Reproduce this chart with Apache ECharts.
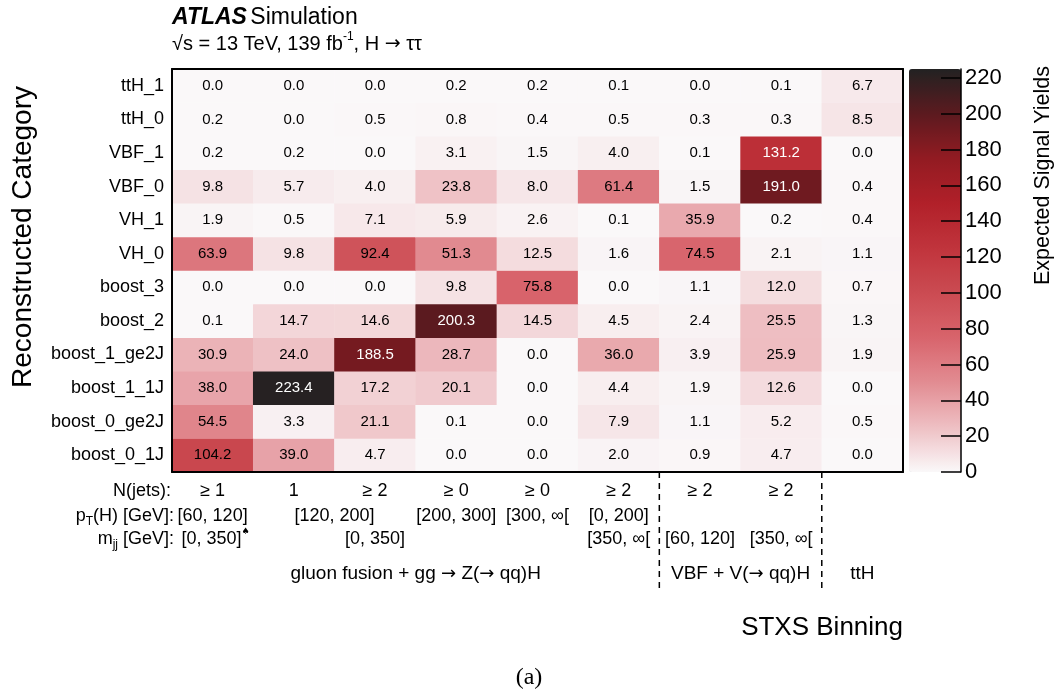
<!DOCTYPE html>
<html>
<head>
<meta charset="utf-8">
<script src="https://cdn.jsdelivr.net/npm/echarts@6/dist/echarts.min.js"></script>
<style>
html,body{margin:0;padding:0;background:#fff;}
#c{width:1057px;height:692px;}
</style>
</head>
<body>
<div id="c"></div>
<script>
// ---------------- data ----------------
const stxsBins = ['ggF_1J_60_120','ggF_1J_120_200','ggF_ge2J_120_200','ggF_200_300','ggF_300_inf','ggF_ge2J_mjj350_pt0_200','VBF_mjj60_120','VBF_mjj350_inf','ttH'];
// reconstructed categories, bottom -> top
const recoCats = ['boost_0_1J','boost_0_ge2J','boost_1_1J','boost_1_ge2J','boost_2','boost_3','VH_0','VH_1','VBF_0','VBF_1','ttH_0','ttH_1'];

const row_boost_0_1J   = [104.2, 39.0,   4.7,   0.0,  0.0,  2.0,  0.9,   4.7, 0.0];
const row_boost_0_ge2J = [ 54.5,  3.3,  21.1,   0.1,  0.0,  7.9,  1.1,   5.2, 0.5];
const row_boost_1_1J   = [ 38.0,223.4,  17.2,  20.1,  0.0,  4.4,  1.9,  12.6, 0.0];
const row_boost_1_ge2J = [ 30.9, 24.0, 188.5,  28.7,  0.0, 36.0,  3.9,  25.9, 1.9];
const row_boost_2      = [  0.1, 14.7,  14.6, 200.3, 14.5,  4.5,  2.4,  25.5, 1.3];
const row_boost_3      = [  0.0,  0.0,   0.0,   9.8, 75.8,  0.0,  1.1,  12.0, 0.7];
const row_VH_0         = [ 63.9,  9.8,  92.4,  51.3, 12.5,  1.6, 74.5,   2.1, 1.1];
const row_VH_1         = [  1.9,  0.5,   7.1,   5.9,  2.6,  0.1, 35.9,   0.2, 0.4];
const row_VBF_0        = [  9.8,  5.7,   4.0,  23.8,  8.0, 61.4,  1.5, 191.0, 0.4];
const row_VBF_1        = [  0.2,  0.2,   0.0,   3.1,  1.5,  4.0,  0.1, 131.2, 0.0];
const row_ttH_0        = [  0.2,  0.0,   0.5,   0.8,  0.4,  0.5,  0.3,   0.3, 8.5];
const row_ttH_1        = [  0.0,  0.0,   0.0,   0.2,  0.2,  0.1,  0.0,   0.1, 6.7];
const rows = [row_boost_0_1J,row_boost_0_ge2J,row_boost_1_1J,row_boost_1_ge2J,row_boost_2,row_boost_3,row_VH_0,row_VH_1,row_VBF_0,row_VBF_1,row_ttH_0,row_ttH_1];

const zTicks = [0,20,40,60,80,100,120,140,160,180,200,220];
const zMax = 225;

// bottom annotation rows (column index where each label is centred)
const nJetsText = ['≥ 1','1','≥ 2','≥ 0','≥ 0','≥ 2','≥ 2','≥ 2'];
const nJetsCol  = [0,1,2,3,4,5,6,7];
const ptText = ['[60, 120]','[120, 200]','[200, 300]','[300, ∞[','[0, 200]'];
const ptCol  = [0,1.5,3,4,5];
const mjjText = ['[0, 350]{sp|♠}','[0, 350]','[350, ∞[','[60, 120]','[350, ∞['];
const mjjCol  = [0,2,5,6,7];
const groupText = ['gluon fusion + gg {ar|→} Z({ar|→} qq)H','VBF + V({ar|→} qq)H','ttH'];
const groupCol  = [2.5,6.5,8];
const groupBoundaries = [6,8];

// ---------------- layout ----------------
const GL=172, GT=69, GW=731, GH=403;
const CW = GW/stxsBins.length;
const FONT = '"Liberation Sans", Arial, Helvetica, sans-serif';
const colX = c => GL + (c+0.5)*CW;

const heatData = [];
rows.forEach((r,yi)=>r.forEach((v,xi)=>{
  heatData.push({value:[xi,yi,v], label:{color: v>120 ? '#ffffff' : '#000000'}});
}));

const richAll = {
  sub:{fontSize:12, fontFamily:FONT, fill:'#000', verticalAlign:'bottom', lineHeight:12},
  sp:{fontSize:9, fontFamily:'"DejaVu Sans", sans-serif', fill:'#000', verticalAlign:'top', lineHeight:12},
  ar:{fontSize:18, fontFamily:'"DejaVu Sans", sans-serif', fill:'#000', lineHeight:24}
};
const graphics = [];
function txt(x,y,text,opt){
  graphics.push({type:'text', x:x, y:y, silent:true,
    style:Object.assign({text:text, font:'18px '+FONT, fill:'#000', textAlign:'center', textVerticalAlign:'middle', lineHeight:24, rich:richAll}, opt||{})});
}

// title
graphics.push({type:'text', left:172, top:6, silent:true, style:{
  text:'{b|ATLAS} {n|Simulation}', rich:{b:{fontSize:23,fontWeight:'bold',fontStyle:'italic',fontFamily:FONT,fill:'#000'}, n:{fontSize:23,fontFamily:FONT,fill:'#000'}}}});
graphics.push({type:'text', left:172, top:31, silent:true, style:{
  text:'{n|√s = 13 TeV, 139 fb}{s|-1}{n|, H }{a|→}{n| ττ}', rich:{n:{fontSize:20,fontFamily:FONT,fill:'#000',lineHeight:26}, a:{fontSize:19,fontFamily:'"DejaVu Sans", sans-serif',fill:'#000',lineHeight:26}, s:{fontSize:12,fontFamily:FONT,fill:'#000',verticalAlign:'top',lineHeight:14}}}});

// bottom labels
const yN=491, yP=516, yM=539, yG=574;
txt(171,yN,'N(jets):',{textAlign:'right'});
nJetsText.forEach((t,i)=>txt(colX(nJetsCol[i]),yN,t));
txt(174,yP,'p{sub|T}(H) [GeV]:',{textAlign:'right'});
ptText.forEach((t,i)=>txt(colX(ptCol[i]),yP,t));
txt(174,yM,'m{sub|jj} [GeV]:',{textAlign:'right'});
mjjText.forEach((t,i)=>txt(colX(mjjCol[i])+(i===0?3:0),yM,t));
groupText.forEach((t,i)=>txt(colX(groupCol[i]),yG,t,{font:'19px '+FONT}));
groupBoundaries.forEach(b=>graphics.push({type:'line', silent:true, shape:{x1:GL+b*CW, y1:GT+GH, x2:GL+b*CW, y2:588}, style:{stroke:'#000', lineWidth:1.5, lineDash:[6,5]}}));

// axis titles
graphics.push({type:'text', x:23, y:237, rotation:Math.PI/2, silent:true, style:{text:'Reconstructed Category', font:'28px '+FONT, fill:'#000', textAlign:'center', textVerticalAlign:'middle'}});
graphics.push({type:'text', x:1043, y:66, rotation:Math.PI/2, silent:true, style:{text:'Expected Signal Yields', font:'21.5px '+FONT, fill:'#000', textAlign:'right', textVerticalAlign:'middle'}});
txt(GL+GW, 628, 'STXS Binning', {font:'26px '+FONT, textAlign:'right'});
txt(529, 678, '(a)', {font:'24px "Liberation Serif", "DejaVu Serif", serif'});

const axisLineStyle = {color:'#000', width:2};
const tickStyle = {color:'#000', width:1.5};

const option = {
  animation:false,
  backgroundColor:'#fff',
  grid:[
    {left:GL, top:GT, width:GW, height:GH, containLabel:false},
    {left:909, top:GT, width:52, height:GH, containLabel:false}
  ],
  xAxis:[
    {type:'category', gridIndex:0, data:stxsBins, position:'bottom', z:10,
     axisLine:{lineStyle:axisLineStyle}, axisTick:{inside:true, length:13, interval:0, lineStyle:tickStyle},
     axisLabel:{show:false}, splitLine:{show:false}},
    {type:'category', gridIndex:0, data:stxsBins, position:'top', z:10,
     axisLine:{lineStyle:axisLineStyle}, axisTick:{inside:true, length:13, interval:0, lineStyle:tickStyle},
     axisLabel:{show:false}, splitLine:{show:false}},
    {type:'value', gridIndex:1, min:0, max:1, show:false}
  ],
  yAxis:[
    {type:'category', gridIndex:0, data:recoCats, position:'left', z:10,
     axisLine:{lineStyle:axisLineStyle}, axisTick:{inside:true, length:20, interval:0, lineStyle:tickStyle},
     axisLabel:{interval:0, fontSize:18, fontFamily:FONT, color:'#000', margin:8}, splitLine:{show:false}},
    {type:'category', gridIndex:0, data:recoCats, position:'right', z:10,
     axisLine:{lineStyle:axisLineStyle}, axisTick:{inside:true, length:20, interval:0, lineStyle:tickStyle},
     axisLabel:{show:false}, splitLine:{show:false}},
    {type:'value', gridIndex:1, min:0, max:zMax, position:'right', z:10,
     axisLine:{show:true, onZero:false, lineStyle:{color:'#000', width:1.5}},
     axisTick:{show:true, inside:true, length:20, lineStyle:tickStyle, customValues:zTicks},
     axisLabel:{fontSize:22, fontFamily:FONT, color:'#000', margin:4, customValues:zTicks},
     splitLine:{show:false}}
  ],
  visualMap:{
    type:'continuous', min:0, max:zMax, seriesIndex:0, calculable:false, realtime:false,
    left:909, top:GT, itemWidth:52, itemHeight:GH, padding:0, orient:'vertical', z:2,
    inRange:{color:['#faf8f9','#eebfc3','#e28c92','#d8646c','#cb4b52','#c0343c','#b12029','#921b22','#5c1a1f','#222222']},
    hoverLink:false
  },
  series:[{
    type:'heatmap', xAxisIndex:0, yAxisIndex:0, data:heatData,
    label:{show:true, fontSize:15, fontFamily:FONT, formatter:p=>p.value[2].toFixed(1)},
    emphasis:{disabled:true}, itemStyle:{borderWidth:0}
  }],
  graphic:graphics
};
const chart = echarts.init(document.getElementById('c'), null, {renderer:'canvas'});
chart.setOption(option);
</script>
</body>
</html>
